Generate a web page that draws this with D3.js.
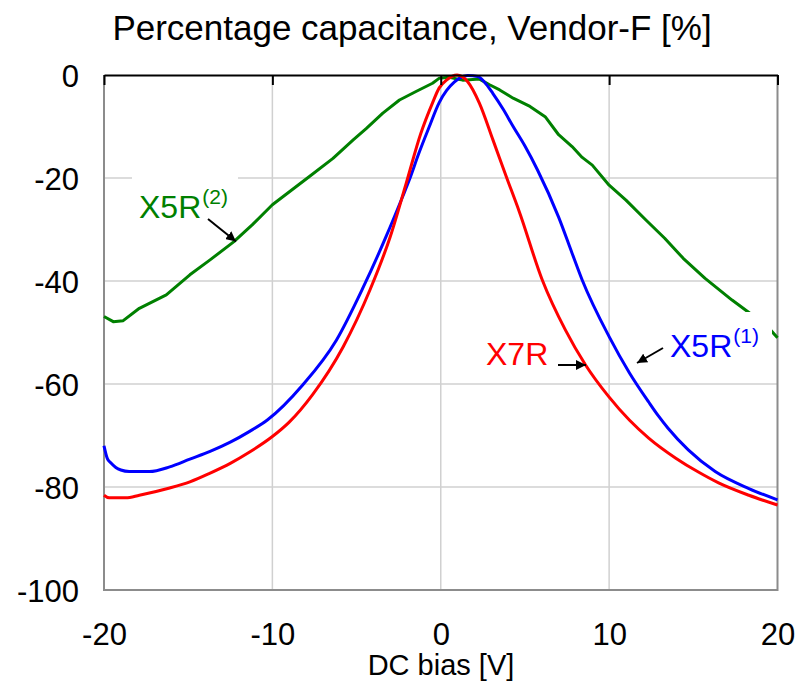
<!DOCTYPE html>
<html>
<head>
<meta charset="utf-8">
<script src="https://cdn.jsdelivr.net/npm/d3@7"></script>
<style>
  body { margin: 0; background: #fff; }
  text { font-family: "Liberation Sans", Arial, sans-serif; }
</style>
</head>
<body>
<svg width="805" height="691"></svg>
<script>
// values
var xTicks = [-20, -10, 0, 10, 20];
var yTicks = [0, -20, -40, -60, -80, -100];

var x7rBias = [-20, -19.7, -18.7, -17.9, -16.1, -14.9, -13.7, -12.5, -11.35, -10.0, -9.0, -7.6, -5.8, -4.2, -3.0, -2.05, -1.2, -0.5, -0.09, 0.34, 0.97, 1.6, 2.3, 3.1, 3.9, 4.65, 6.03, 7.4, 8.6, 9.99, 11.2, 12.35, 13.96, 15.3, 16.5, 18.3, 20];
var x7rCap  = [-81.6, -82.1, -82.1, -81.6, -80.2, -79.0, -77.3, -75.4, -73.2, -70.2, -67.4, -62.0, -52.8, -41.7, -31.4, -21.0, -11.5, -5.5, -2.5, -1.0, 0, -1.3, -5.5, -12.6, -19.8, -26.4, -39.8, -49.5, -56.3, -62.5, -67.0, -70.5, -74.4, -77.1, -79.2, -81.6, -83.5];

var x5r1Bias = [-20, -19.8, -19.6, -19.3, -19.0, -18.5, -17.3, -16.1, -14.9, -13.7, -12.5, -11.35, -10.3, -8.2, -6.2, -4.63, -3.25, -2.26, -1.87, -1.3, -0.7, -0.1, 0.35, 0.8, 1.1, 1.6, 2.2, 2.6, 3.1, 3.7, 4.3, 5.0, 5.74, 7.0, 7.8, 8.4, 10.0, 11.2, 12.35, 12.95, 13.5, 14.7, 16.3, 18.3, 20];
var x5r1Cap  = [-72.0, -74.5, -75.3, -76.2, -76.7, -77.0, -77.0, -76.1, -74.6, -73.1, -71.3, -69.2, -67.0, -60.2, -51.5, -41.4, -31.4, -23.6, -20.4, -15.2, -10.2, -5.4, -3.0, -1.4, -0.65, -0.1, -0.3, -1.4, -3.6, -6.6, -10.0, -13.8, -18.4, -27.6, -34.6, -39.8, -50.8, -57.8, -63.5, -66.3, -68.6, -72.8, -77.0, -80.3, -82.5];

var x5r2Bias = [-20, -19.45, -18.86, -17.9, -16.3, -14.9, -13.7, -12.3, -11.2, -10.0, -7.8, -6.4, -5.2, -4.43, -3.44, -2.45, -1.47, -0.49, -0.1, 0.5, 1.3, 2.3, 2.9, 3.5, 4.3, 5.3, 6.2, 7.0, 7.8, 8.4, 9.0, 10.0, 11.0, 12.2, 13.3, 14.4, 15.7, 17.3, 18.5, 19.5, 20];
var x5r2Cap  = [-46.9, -47.9, -47.7, -45.3, -42.7, -38.8, -35.9, -32.4, -29.1, -25.2, -19.7, -16.2, -12.6, -10.4, -7.4, -4.85, -3.2, -1.6, -0.65, -0.45, -1.0, -0.8, -1.9, -2.9, -4.5, -6.1, -8.1, -11.6, -13.9, -16.0, -17.5, -21.4, -24.3, -28.2, -31.7, -35.6, -39.5, -43.7, -46.6, -49.2, -51.0];

var svg = d3.select("svg");
var plotLeft = 104, plotTop = 75, plotRight = 777.5, plotBottom = 590;

var x = d3.scaleLinear().domain([-20, 20]).range([plotLeft, plotRight]);
var y = d3.scaleLinear().domain([-100, 0]).range([plotBottom, plotTop]);

var fmt = function(d) { return String(d); };

// grid
svg.append("g").selectAll("line").data(xTicks.slice(1, -1)).enter().append("line")
  .attr("x1", d => x(d)).attr("x2", d => x(d)).attr("y1", plotTop).attr("y2", plotBottom)
  .attr("stroke", "#d0d0d0").attr("stroke-width", 1.5);
svg.append("g").selectAll("line").data(yTicks.slice(1, -1)).enter().append("line")
  .attr("x1", plotLeft).attr("x2", plotRight).attr("y1", d => y(d)).attr("y2", d => y(d))
  .attr("stroke", "#d0d0d0").attr("stroke-width", 1.5);

// frame
svg.append("path")
  .attr("d", "M" + plotLeft + "," + plotTop + "V" + plotBottom + "H" + plotRight + "V" + plotTop)
  .attr("fill", "none").attr("stroke", "#8c8c8c").attr("stroke-width", 2);

// series
var smooth = d3.line().x(d => x(d[0])).y(d => y(d[1])).curve(d3.curveMonotoneX);
var plain = d3.line().x(d => x(d[0])).y(d => y(d[1]));

svg.append("path").datum(d3.zip(x5r2Bias, x5r2Cap)).attr("d", plain)
  .attr("fill", "none").attr("stroke", "#008000").attr("stroke-width", 3).attr("stroke-linejoin", "round");
svg.append("path").datum(d3.zip(x5r1Bias, x5r1Cap)).attr("d", smooth)
  .attr("fill", "none").attr("stroke", "#0000ff").attr("stroke-width", 3);
svg.append("path").datum(d3.zip(x7rBias, x7rCap)).attr("d", smooth)
  .attr("fill", "none").attr("stroke", "#ff0000").attr("stroke-width", 3);

// label boxes (white background of the text boxes)
svg.append("rect").attr("x", 132).attr("y", 172).attr("width", 106).attr("height", 56).attr("fill", "#fff");
svg.append("rect").attr("x", 662).attr("y", 312).attr("width", 110).attr("height", 56).attr("fill", "#fff");

// labels
function label(xp, yp, main, sup, color) {
  var t = svg.append("text").attr("x", xp).attr("y", yp)
    .attr("fill", color).attr("font-size", 32).text(main);
  if (sup) {
    t.append("tspan").attr("font-size", 21).attr("dx", 1).attr("dy", -14).text(sup);
  }
}
label(139, 218, "X5R", "(2)", "#008000");
label(670, 357, "X5R", "(1)", "#0000ff");
label(486, 365, "X7R", null, "#ff0000");

// arrows
svg.append("defs").append("marker")
  .attr("id", "arr").attr("viewBox", "0 0 10 10").attr("refX", 10).attr("refY", 5)
  .attr("markerWidth", 5).attr("markerHeight", 5).attr("orient", "auto")
  .append("path").attr("d", "M0,0L10,5L0,10z").attr("fill", "#000");

var arrows = [[208, 219, 236, 241.5], [663, 348, 637, 363], [558, 365, 586, 365]];
svg.append("g").selectAll("line").data(arrows).enter().append("line")
  .attr("x1", d => d[0]).attr("y1", d => d[1]).attr("x2", d => d[2]).attr("y2", d => d[3])
  .attr("stroke", "#000").attr("stroke-width", 2).attr("marker-end", "url(#arr)");

// x axis line at y = 0 with ticks pointing down
var topAxis = svg.append("g").attr("transform", "translate(0," + y(0) + ")")
  .call(d3.axisBottom(x).tickValues(xTicks).tickSize(10).tickSizeOuter(0).tickFormat(""));
topAxis.select(".domain").attr("stroke", "#000").attr("stroke-width", 2);
topAxis.selectAll(".tick line").attr("stroke", "#000").attr("stroke-width", 2);

// tick labels
var xl = svg.append("g").attr("transform", "translate(0," + plotBottom + ")")
  .call(d3.axisBottom(x).tickValues(xTicks).tickSize(0).tickPadding(0).tickFormat(fmt));
xl.select(".domain").remove();
xl.selectAll("text").attr("font-size", 31).attr("fill", "#000")
  .attr("font-family", "'Liberation Sans', Arial, sans-serif").attr("y", 55).attr("dy", 0);

var yl = svg.append("g").attr("transform", "translate(" + plotLeft + ",0)")
  .call(d3.axisLeft(y).tickValues(yTicks).tickSize(0).tickPadding(25).tickFormat(fmt));
yl.select(".domain").remove();
yl.selectAll("text").attr("font-size", 31).attr("fill", "#000")
  .attr("font-family", "'Liberation Sans', Arial, sans-serif").attr("dy", "0.36em");

// titles
svg.append("text").attr("x", 412).attr("y", 40).attr("text-anchor", "middle")
  .attr("font-size", 35).text("Percentage capacitance, Vendor-F [%]");
svg.append("text").attr("x", 441).attr("y", 675).attr("text-anchor", "middle")
  .attr("font-size", 29).text("DC bias [V]");
</script>
</body>
</html>
